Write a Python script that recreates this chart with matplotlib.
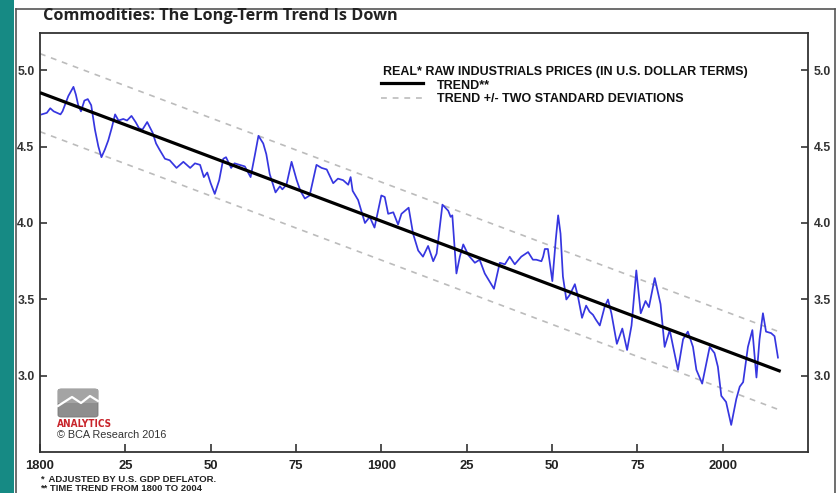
import numpy as np
import matplotlib
matplotlib.use("Agg")
import matplotlib.pyplot as plt
from matplotlib.lines import Line2D
from matplotlib.patches import Rectangle, FancyBboxPatch

# ---------------- data ----------------
years = [1800.5, 1802, 1803, 1804, 1805, 1806, 1806.6, 1808.3, 1809.8, 1810.5,
         1811.2, 1812, 1813, 1814, 1815, 1816.1, 1817.1, 1818, 1819, 1820,
         1821, 1822, 1823, 1824.4, 1825.5, 1826.8, 1828, 1829, 1830, 1831.4,
         1833, 1834, 1835, 1836.6, 1838, 1840, 1842, 1844, 1845.4, 1846.9,
         1848, 1849, 1850, 1851.2, 1852.5, 1853.7, 1854.5, 1856, 1857, 1858.5,
         1860, 1861.7, 1863, 1864, 1865.4, 1866.3, 1867.3, 1869, 1870.3, 1871,
         1872.2, 1873.7, 1875.2, 1876.3, 1877.6, 1879, 1881, 1882.5, 1884, 1885.9,
         1887.3, 1888.8, 1890.3, 1891, 1891.6, 1893.2, 1895.2, 1896.6, 1898, 1900,
         1901, 1902, 1903.5, 1904.9, 1905.9, 1908, 1909.3, 1910.8, 1912.2, 1913.7,
         1915.2, 1916.2, 1917.9, 1919.6, 1920.3, 1920.8, 1922, 1923, 1924, 1925.5,
         1927.4, 1928.8, 1930.3, 1933, 1934.7, 1936.2, 1937.6, 1939.1, 1941, 1943,
         1944.4, 1945.4, 1946.9, 1947.4, 1947.9, 1948.8, 1950.1, 1951.1, 1951.8, 1952.5,
         1953.2, 1954.2, 1955.2, 1956.7, 1957.6, 1958.8, 1960, 1961, 1962, 1962.8,
         1964, 1965.4, 1966.4, 1967.4, 1969, 1970.6, 1972, 1973.3, 1974.7, 1976,
         1977.4, 1978.4, 1980.1, 1981.8, 1983, 1984.5, 1985.5, 1986.9, 1988.4, 1989.8,
         1991.3, 1992.3, 1994, 1995.2, 1996.2, 1997.6, 1998.6, 1999.6, 2001, 2002.5,
         2004, 2005, 2006, 2007.4, 2008.7, 2009.9, 2010.8, 2011.8, 2012.7, 2014.2,
         2015.2, 2016.2]
prices = [4.71, 4.72, 4.75, 4.73, 4.72, 4.71, 4.73, 4.83, 4.89, 4.84,
          4.77, 4.73, 4.80, 4.81, 4.77, 4.61, 4.50, 4.43, 4.48, 4.54,
          4.62, 4.71, 4.67, 4.68, 4.67, 4.70, 4.66, 4.62, 4.61, 4.66,
          4.59, 4.52, 4.48, 4.42, 4.41, 4.36, 4.40, 4.36, 4.39, 4.38,
          4.30, 4.33, 4.26, 4.19, 4.28, 4.42, 4.43, 4.36, 4.39, 4.38,
          4.37, 4.30, 4.45, 4.57, 4.52, 4.45, 4.32, 4.20, 4.24, 4.22,
          4.25, 4.40, 4.28, 4.21, 4.16, 4.18, 4.38, 4.36, 4.35, 4.26,
          4.29, 4.28, 4.25, 4.30, 4.21, 4.15, 4.00, 4.04, 3.97, 4.18,
          4.17, 4.06, 4.07, 3.99, 4.06, 4.10, 3.93, 3.82, 3.78, 3.85,
          3.75, 3.80, 4.12, 4.08, 4.04, 4.05, 3.67, 3.78, 3.86, 3.79,
          3.74, 3.76, 3.67, 3.57, 3.74, 3.73, 3.78, 3.73, 3.78, 3.81,
          3.76, 3.76, 3.75, 3.78, 3.83, 3.83, 3.62, 3.89, 4.05, 3.93,
          3.65, 3.50, 3.53, 3.60, 3.52, 3.38, 3.46, 3.42, 3.40, 3.37,
          3.33, 3.45, 3.50, 3.41, 3.21, 3.31, 3.17, 3.33, 3.69, 3.41,
          3.49, 3.45, 3.64, 3.47, 3.19, 3.30, 3.19, 3.04, 3.24, 3.29,
          3.19, 3.04, 2.95, 3.08, 3.19, 3.15, 3.06, 2.87, 2.83, 2.68,
          2.85, 2.93, 2.96, 3.19, 3.30, 2.99, 3.24, 3.41, 3.29, 3.28,
          3.26, 3.12]
trend_years = [1800, 2017]
trend_values = [4.852, 3.03]
band_years = [1800, 2016.5]
band_offset = 0.255
xtick_years = [1800, 1825, 1850, 1875, 1900, 1925, 1950, 1975, 2000]
xtick_labels = ["1800", "25", "50", "75", "1900", "25", "50", "75", "2000"]
ytick_values = [3.0, 3.5, 4.0, 4.5, 5.0]

# ---------------- figure ----------------
W, H = 837, 493
fig = plt.figure(figsize=(W / 100, H / 100), dpi=100)
fig.patch.set_facecolor("white")


def fx(x):
    return x / W


def fy(y):
    return 1 - y / H


# teal strip and outer frame
fig.add_artist(Rectangle((0, 0), fx(14), 1, transform=fig.transFigure,
                         facecolor="#168a84", edgecolor="none", zorder=0))
frame_kw = dict(transform=fig.transFigure, color="#555555", lw=1.2)
fig.add_artist(Line2D([fx(16), fx(16)], [0, fy(9)], **frame_kw))
fig.add_artist(Line2D([fx(16), fx(835)], [fy(9), fy(9)], **frame_kw))
fig.add_artist(Line2D([fx(835), fx(835)], [0, fy(9)], **frame_kw))

# title
fig.text(fx(43), fy(16), "Commodities: The Long-Term Trend Is Down",
         fontfamily="Open Sans", fontweight="bold", fontsize=11.7,
         color="#222222", ha="left", va="center")

ax = fig.add_axes([fx(40), fy(452), fx(808) - fx(40), fy(33) - fy(452)])
ax.set_xlim(1800, 2025)
ax.set_ylim(2.503, 5.242)

tv = np.interp(band_years, trend_years, trend_values)
ax.plot(band_years, tv + band_offset, color="#bcbcbc", lw=1.2,
        dashes=(3.5, 3.5), zorder=1)
ax.plot(band_years, tv - band_offset, color="#bcbcbc", lw=1.2,
        dashes=(3.5, 3.5), zorder=1)
ax.plot(years, prices, color="#3636e0", lw=1.25, zorder=2,
        solid_joinstyle="round")
ax.plot(trend_years, trend_values, color="black", lw=2.3, zorder=3,
        solid_capstyle="butt")

for s in ax.spines.values():
    s.set_color("#333333")
    s.set_linewidth(1.3)

ax.set_xticks(xtick_years)
ax.set_xticklabels(xtick_labels)
ax.set_yticks(ytick_values)
ax.set_yticklabels([f"{v:.1f}" for v in ytick_values])
ax.tick_params(axis="x", direction="in", length=6, width=1.2, color="#333333",
               pad=6, labelsize=9.4, labelcolor="#222222")
ax.tick_params(axis="y", direction="in", length=5, width=1.2, color="#333333",
               left=True, right=True, labelleft=True, labelright=True,
               pad=4, labelsize=8.8, labelcolor="#333333")
for lab in ax.get_xticklabels() + ax.get_yticklabels():
    lab.set_fontfamily("Liberation Sans")
    lab.set_fontweight("bold")

# legend (manual)
leg_font = dict(fontfamily="Liberation Sans", fontweight="bold", fontsize=9.0,
                color="#111111", va="center", ha="left")
fig.text(fx(383), fy(72), "REAL* RAW INDUSTRIALS PRICES (IN U.S. DOLLAR TERMS)",
         **leg_font)
fig.text(fx(437), fy(86), "TREND**", **leg_font)
fig.text(fx(437), fy(99), "TREND +/- TWO STANDARD DEVIATIONS", **leg_font)
fig.add_artist(Line2D([fx(381), fx(423)], [fy(83), fy(83)],
                      transform=fig.transFigure, color="black", lw=2.3))
fig.add_artist(Line2D([fx(381), fx(423)], [fy(98), fy(98)],
                      transform=fig.transFigure, color="#bcbcbc", lw=1.2,
                      dashes=(3.5, 3.5)))

# logo
fig.add_artist(FancyBboxPatch((fx(58), fy(417)), fx(40), fy(389) - fy(417),
                              boxstyle="round,pad=0,rounding_size=0.004",
                              transform=fig.transFigure, facecolor="#8e8e8e",
                              edgecolor="#777777", lw=0.6))
fig.add_artist(Rectangle((fx(58), fy(403)), fx(40), fy(389) - fy(403),
                         transform=fig.transFigure, facecolor="#a4a4a4",
                         edgecolor="none"))
fig.add_artist(Line2D([fx(58), fx(72), fx(81), fx(90), fx(98)],
                      [fy(406), fy(397), fy(403), fy(396), fy(401)],
                      transform=fig.transFigure, color="white", lw=1.6))
fig.text(fx(57), fy(424), "ANALYTICS",
         fontfamily=["DejaVu Sans"], fontstretch="condensed",
         fontweight="bold", fontsize=7.2, color="#c8242b", ha="left",
         va="center")
fig.text(fx(57), fy(435), "© BCA Research 2016", fontfamily="Liberation Sans",
         fontsize=7.8, color="#333333", ha="left", va="center")

# footnotes
foot = dict(fontfamily="Liberation Sans", fontweight="bold", fontsize=6.8,
            color="#222222", ha="left", va="center")
fig.text(fx(40), fy(479.5), "*  ADJUSTED BY U.S. GDP DEFLATOR.", **foot)
fig.text(fx(40), fy(488.5), "** TIME TREND FROM 1800 TO 2004", **foot)

fig.savefig("out.png", dpi=100)
